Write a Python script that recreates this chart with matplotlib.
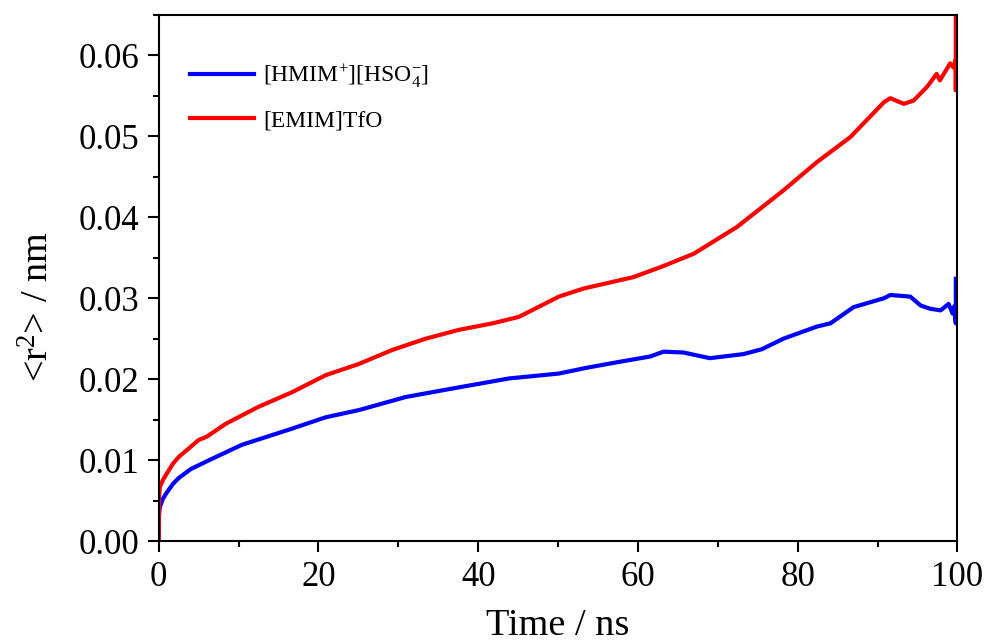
import numpy as np
import matplotlib
matplotlib.use('Agg')
import matplotlib.pyplot as plt
from matplotlib.ticker import MultipleLocator, FormatStrFormatter

plt.rcParams['font.family'] = ['Liberation Serif', 'DejaVu Serif']
plt.rcParams['mathtext.fontset'] = 'custom'
plt.rcParams['mathtext.rm'] = 'Liberation Serif'
plt.rcParams['mathtext.it'] = 'Liberation Serif:italic'

# mean square displacement vs time (ns)
t_hmim = [0, 0.03, 0.13, 0.5, 1.0, 1.8, 2.5, 4.0, 6.3, 10.4, 16.7, 20.9, 25.1,
          30.9, 37.6, 43.9, 50.1, 53.5, 57.4, 61.5, 63.2, 65.7, 69.0, 73.2,
          75.5, 78.2, 82.4, 84.1, 87.0, 90.8, 91.6, 94.1, 95.4, 96.6, 97.9,
          98.9, 99.4, 99.6, 99.8, 99.8]
msd_hmim = [0, 0.0032, 0.0042, 0.0052, 0.0060, 0.0071, 0.0078, 0.0089, 0.0100,
            0.0119, 0.0139, 0.0153, 0.0162, 0.0178, 0.0190, 0.0201, 0.0207,
            0.0214, 0.0221, 0.0228, 0.0234, 0.0233, 0.0226, 0.0231, 0.0237,
            0.0250, 0.0265, 0.0269, 0.0289, 0.0300, 0.0304, 0.0302, 0.0291,
            0.0287, 0.0285, 0.0293, 0.0281, 0.0290, 0.0269, 0.0324]

t_emim = [0, 0.03, 0.13, 0.6, 1.8, 2.5, 5.0, 6.0, 8.4, 12.5, 16.7, 20.9, 25.1,
          29.2, 33.4, 37.6, 41.8, 45.1, 50.1, 53.2, 59.4, 63.0, 67.0, 72.4,
          78.2, 82.4, 86.6, 90.8, 91.6, 93.3, 94.5, 96.2, 97.4, 97.8, 99.1,
          99.5, 99.8, 99.8, 99.8]
msd_emim = [0, 0.0052, 0.0067, 0.0077, 0.0096, 0.0104, 0.0125, 0.0129, 0.0145,
            0.0166, 0.0184, 0.0205, 0.0219, 0.0236, 0.0250, 0.0261, 0.0269,
            0.0277, 0.0302, 0.0312, 0.0326, 0.0339, 0.0355, 0.0388, 0.0433,
            0.0468, 0.0499, 0.0542, 0.0547, 0.0540, 0.0544, 0.0561, 0.0577,
            0.0569, 0.0590, 0.0585, 0.0595, 0.0557, 0.0650]

fig = plt.figure(figsize=(9.86, 6.42), dpi=100)
ax = fig.add_axes([0.161, 0.157, 0.810, 0.820])

ax.plot(t_hmim, msd_hmim, color='#0000ff', lw=3.0,
        label='[HMIM$^{+}$][HSO$_{4}^{-}$]')
ax.plot(t_emim, msd_emim, color='#ff0000', lw=3.0, label='[EMIM]TfO')

ax.set_xlim(0, 100)
ax.set_ylim(0, 0.065)
ax.xaxis.set_major_locator(MultipleLocator(20))
ax.xaxis.set_minor_locator(MultipleLocator(10))
ax.yaxis.set_major_locator(MultipleLocator(0.01))
ax.yaxis.set_minor_locator(MultipleLocator(0.005))
ax.yaxis.set_major_formatter(FormatStrFormatter('%.2f'))

ax.tick_params(which='major', direction='out', length=8, width=1.5,
               labelsize=25, pad=6)
ax.tick_params(which='minor', direction='out', length=4.5, width=1.5)
for s in ax.spines.values():
    s.set_linewidth(1.5)

ax.set_xlabel('Time / ns', fontsize=27.5, labelpad=11)
ax.set_ylabel('<r$^{2}$> / nm', fontsize=27.5, labelpad=16)
ax.yaxis.label.set_y(0.445)

ax.legend(loc='upper left', bbox_to_anchor=(0.0125, 0.95), frameon=False,
          fontsize=17, handlelength=2.7, handletextpad=0.4, labelspacing=0.88)

fig.savefig('out.png', dpi=100)
